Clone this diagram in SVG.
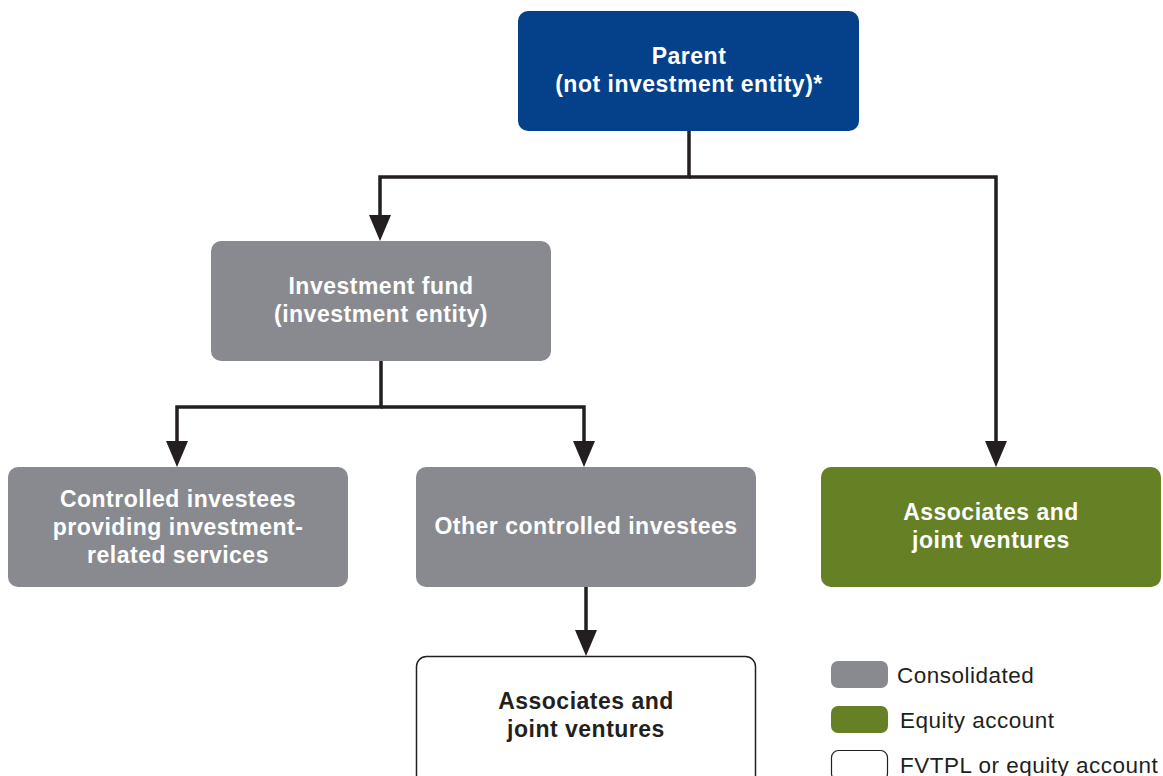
<svg xmlns="http://www.w3.org/2000/svg" width="1163" height="776" viewBox="0 0 1163 776">
<style>
.t{font-family:"Liberation Sans",Arial,sans-serif;font-weight:bold;font-size:23px;letter-spacing:0.5px;text-anchor:middle;fill:#fff}
.d{fill:#231f20}
.g{fill:#898a8f}
.l{font-family:"Liberation Sans",Arial,sans-serif;font-size:22.5px;letter-spacing:0.5px;fill:#231f20}
.c{fill:none;stroke:#231f20;stroke-width:3.5}
</style>
<g id="connectors">
<path class="c" d="M689,131 V177 H380 V217"/>
<path d="M369,215 L391,215 L380,241 Z" class="d"/>
<path class="c" d="M689,177 H996 V443"/>
<path d="M985,441 L1007,441 L996,467 Z" class="d"/>
<path class="c" d="M381,361 V407 H177 V443"/>
<path d="M166,441 L188,441 L177,467 Z" class="d"/>
<path class="c" d="M381,407 H584 V443"/>
<path d="M573,441 L595,441 L584,467 Z" class="d"/>
<path class="c" d="M586,587 V632"/>
<path d="M575,630 L597,630 L586,656 Z" class="d"/>
</g>
<g id="parent">
<rect x="518" y="11" width="341" height="120" rx="10" fill="#04418a"/>
<text class="t" x="689" y="64">Parent</text>
<text class="t" x="689" y="92">(not investment entity)*</text>
</g>
<g id="fund">
<rect x="211" y="241" width="340" height="120" rx="10" class="g"/>
<text class="t" x="381" y="294">Investment fund</text>
<text class="t" x="381" y="322">(investment entity)</text>
</g>
<g id="services">
<rect x="8" y="467" width="340" height="120" rx="10" class="g"/>
<text class="t" x="178" y="507">Controlled investees</text>
<text class="t" x="178" y="535">providing investment-</text>
<text class="t" x="178" y="563">related services</text>
</g>
<g id="other">
<rect x="416" y="467" width="340" height="120" rx="10" class="g"/>
<text class="t" x="586" y="534">Other controlled investees</text>
</g>
<g id="assoc-green">
<rect x="821" y="467" width="340" height="120" rx="10" fill="#658025"/>
<text class="t" x="991" y="520">Associates and</text>
<text class="t" x="991" y="548">joint ventures</text>
</g>
<g id="assoc-white">
<rect x="416.5" y="656.5" width="339" height="130" rx="10" fill="#fff" stroke="#231f20" stroke-width="1.5"/>
<text class="t" x="586" y="709" style="fill:#231f20">Associates and</text>
<text class="t" x="586" y="737" style="fill:#231f20">joint ventures</text>
</g>
<g id="legend">
<rect x="831" y="661" width="57" height="27" rx="7" class="g"/>
<text class="l" x="897" y="683">Consolidated</text>
<rect x="831" y="706" width="57" height="27" rx="7" fill="#658025"/>
<text class="l" x="900" y="728">Equity account</text>
<rect x="831.5" y="750.5" width="56" height="30" rx="7" fill="#fff" stroke="#231f20" stroke-width="1.2"/>
<text class="l" x="900" y="773">FVTPL or equity account</text>
</g>
</svg>
